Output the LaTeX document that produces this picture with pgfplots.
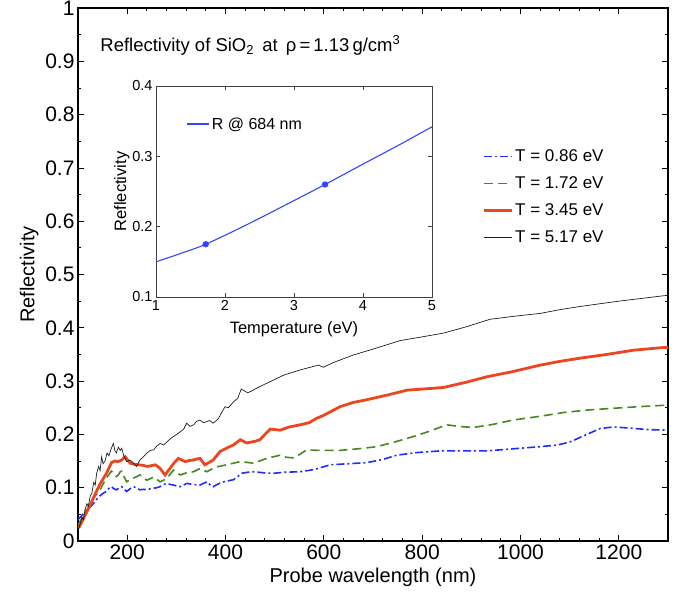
\documentclass[border=0pt]{standalone}
\usepackage{pgfplots}
\pgfplotsset{compat=1.18}
\usepackage{fontspec}
\setmainfont{Liberation Sans}
\definecolor{cblue}{RGB}{30,45,255}
\definecolor{cgreen}{RGB}{70,135,30}
\definecolor{cred}{RGB}{235,70,30}
\definecolor{cblack}{RGB}{30,30,30}
\definecolor{cinset}{RGB}{50,70,255}
\begin{document}
\begin{tikzpicture}
\useasboundingbox (-78pt,-62pt) rectangle (606pt,541pt);
\begin{axis}[
  name=main,
  scale only axis, width=590pt, height=533pt,
  xmin=100, xmax=1300, ymin=0, ymax=1,
  xtick={200,400,...,1200}, ytick={0,0.1,...,1.0},
  yticklabels={0,0.1,0.2,0.3,0.4,0.5,0.6,0.7,0.8,0.9,1},
  /pgf/number format/1000 sep={},
  minor x tick num=4, minor y tick num=1,
  tick align=inside, tick pos=both,
  major tick length=6pt, minor tick length=3pt,
  axis line style={line width=1.2pt},
  every tick/.style={line width=0.8pt, black},
  tick label style={font=\fontsize{21}{23}\selectfont},
  /pgf/number format/assume math mode=true,
  xlabel={Probe wavelength (nm)}, ylabel={Reflectivity},
  label style={font=\fontsize{20}{22}\selectfont},
  xlabel style={yshift=-2pt},
  ylabel style={yshift=0pt},
  legend style={at={(0.68,0.742)}, anchor=north west, draw=none, fill=none,
    font=\fontsize{17}{19}\selectfont, row sep=9.6pt,
    legend cell align=left},
  legend image code/.code={\draw[#1] (0pt,0pt) -- (28pt,0pt);},
]
\addplot[cblue, line width=1.6pt, dash pattern=on 8pt off 3pt on 2pt off 3pt] coordinates {
(100,0.04)(105,0.045)(110,0.05)(117,0.058)(124,0.063)(131,0.07)(138,0.078)(145,0.085)(152,0.09)(158,0.093)(163,0.099)(168,0.102)(173,0.098)(178,0.096)(184,0.1)(189,0.102)(194,0.097)(199,0.093)(206,0.098)(213,0.102)(220,0.099)(226,0.096)(233,0.097)(240,0.096)(247,0.098)(254,0.099)(260,0.1)(267,0.102)(274,0.106)(281,0.108)(288,0.106)(294,0.105)(301,0.103)(308,0.102)(315,0.105)(321,0.108)(335,0.106)(348,0.105)(355,0.108)(362,0.111)(368,0.106)(375,0.102)(385,0.107)(396,0.111)(406,0.113)(416,0.115)(425,0.121)(433,0.127)(445,0.129)(457,0.13)(477,0.128)(497,0.127)(520,0.129)(552,0.13)(580,0.134)(613,0.143)(650,0.145)(687,0.147)(720,0.153)(748,0.161)(790,0.166)(836,0.169)(880,0.169)(931,0.169)(985,0.173)(1040,0.177)(1075,0.18)(1101,0.186)(1130,0.198)(1162,0.211)(1189,0.214)(1220,0.212)(1260,0.209)(1300,0.208)
};
\addlegendentry{T = 0.86 eV}
\addplot[cgreen, line width=1.6pt, dash pattern=on 9pt off 5pt] coordinates {
(100,0.03)(105,0.038)(111,0.047)(118,0.058)(124,0.07)(131,0.081)(138,0.088)(145,0.096)(151,0.107)(158,0.118)(163,0.125)(168,0.131)(173,0.126)(178,0.121)(182,0.124)(186,0.13)(189,0.131)(194,0.12)(199,0.111)(206,0.115)(213,0.118)(220,0.121)(226,0.124)(233,0.119)(240,0.114)(247,0.117)(254,0.12)(260,0.116)(267,0.111)(274,0.114)(281,0.118)(288,0.126)(294,0.133)(301,0.128)(308,0.124)(321,0.128)(335,0.13)(348,0.136)(355,0.133)(362,0.13)(372,0.135)(382,0.139)(402,0.143)(430,0.149)(457,0.146)(484,0.155)(511,0.161)(524,0.157)(538,0.156)(552,0.163)(565,0.171)(590,0.170)(633,0.170)(670,0.173)(708,0.177)(745,0.186)(782,0.196)(815,0.206)(850,0.218)(875,0.215)(904,0.213)(945,0.219)(985,0.227)(1040,0.234)(1087,0.241)(1140,0.246)(1189,0.249)(1240,0.252)(1300,0.255)
};
\addlegendentry{T = 1.72 eV}
\addplot[cred, line width=2.8pt] coordinates {
(100,0.025)(103,0.027)(110,0.04)(117,0.053)(124,0.066)(131,0.08)(138,0.094)(145,0.107)(152,0.118)(158,0.127)(163,0.137)(168,0.147)(175,0.15)(182,0.149)(189,0.152)(196,0.158)(201,0.152)(206,0.146)(214,0.144)(223,0.143)(232,0.142)(240,0.14)(248,0.141)(257,0.143)(262,0.14)(267,0.136)(272,0.13)(277,0.124)(282,0.13)(287,0.136)(295,0.146)(304,0.155)(311,0.152)(318,0.149)(326,0.151)(335,0.152)(342,0.154)(348,0.155)(353,0.149)(358,0.143)(366,0.147)(375,0.152)(389,0.168)(406,0.176)(416,0.18)(430,0.19)(443,0.184)(460,0.187)(470,0.19)(480,0.2)(491,0.21)(511,0.208)(530,0.214)(552,0.218)(570,0.222)(585,0.23)(600,0.236)(633,0.252)(660,0.26)(687,0.265)(730,0.274)(769,0.283)(800,0.285)(843,0.288)(890,0.298)(931,0.308)(985,0.318)(1040,0.33)(1080,0.337)(1121,0.343)(1175,0.35)(1230,0.358)(1290,0.363)(1300,0.363)
};
\addlegendentry{T = 3.45 eV}
\addplot[cblack, line width=0.7pt] coordinates {
(100,0.02)(103,0.027)(108,0.045)(111,0.04)(114,0.058)(118,0.07)(121,0.065)(125,0.085)(128,0.089)(132,0.11)(135,0.105)(138,0.127)(142,0.14)(145,0.132)(148,0.158)(151,0.145)(155,0.15)(159,0.165)(163,0.16)(167,0.172)(172,0.183)(175,0.17)(178,0.165)(182,0.176)(186,0.17)(189,0.174)(193,0.16)(199,0.149)(206,0.152)(213,0.146)(219,0.14)(226,0.152)(233,0.158)(240,0.165)(247,0.17)(254,0.171)(260,0.178)(267,0.183)(274,0.18)(281,0.186)(288,0.192)(294,0.196)(301,0.2)(308,0.205)(315,0.21)(321,0.221)(328,0.215)(335,0.218)(342,0.225)(348,0.227)(355,0.222)(362,0.224)(368,0.226)(375,0.221)(385,0.229)(399,0.252)(406,0.25)(416,0.261)(425,0.268)(432,0.285)(438,0.282)(445,0.278)(452,0.281)(466,0.288)(484,0.296)(500,0.303)(518,0.311)(552,0.321)(589,0.33)(599,0.326)(620,0.335)(660,0.349)(700,0.36)(755,0.376)(800,0.383)(843,0.39)(890,0.402)(938,0.416)(990,0.422)(1040,0.427)(1080,0.434)(1121,0.44)(1200,0.45)(1290,0.46)(1300,0.461)
};
\addlegendentry{T = 5.17 eV}
\node[anchor=west, font=\fontsize{18.5}{20}\selectfont] at (rel axis cs:0.032,0.93)
  {Reflectivity of SiO\textsubscript{2}\, at \,ρ\,=\,1.13\,g/cm\textsuperscript{3}};
\end{axis}
\begin{axis}[
  at={(78pt,244pt)}, anchor=south west,
  scale only axis, width=276pt, height=211pt,
  xmin=1, xmax=5, ymin=0.1, ymax=0.4,
  xtick={1,2,3,4,5}, ytick={0.1,0.2,0.3,0.4},
  tick align=inside, tick pos=both, major tick length=4pt,
  axis line style={line width=0.9pt, black!75},
  every tick/.style={line width=0.6pt, black!75},
  tick label style={font=\fontsize{14.5}{16}\selectfont},
  /pgf/number format/assume math mode=true,
  xlabel={Temperature (eV)}, ylabel={Reflectivity},
  label style={font=\fontsize{16.5}{18}\selectfont},
  xlabel style={yshift=-4pt}, ylabel style={yshift=-4pt},
  axis background/.style={fill=white},
  legend style={at={(0.1,0.82)}, anchor=west, draw=none, fill=none,
    font=\fontsize{16}{18}\selectfont},
  legend image code/.code={\draw[#1] (0pt,0pt) -- (11pt,0pt) plot coordinates {(11pt,0pt)} -- (22pt,0pt);},
]
\addplot[cinset, line width=1.1pt, smooth, mark=*, mark size=2.6pt, mark indices={3,6}] coordinates {
(1,0.150)(1.36,0.162)(1.72,0.175)(2.3,0.202)(2.9,0.232)(3.45,0.260)(4.0,0.289)(4.5,0.315)(5,0.342)
};
\addlegendentry{R @ 684 nm}
\end{axis}
\end{tikzpicture}
\end{document}
